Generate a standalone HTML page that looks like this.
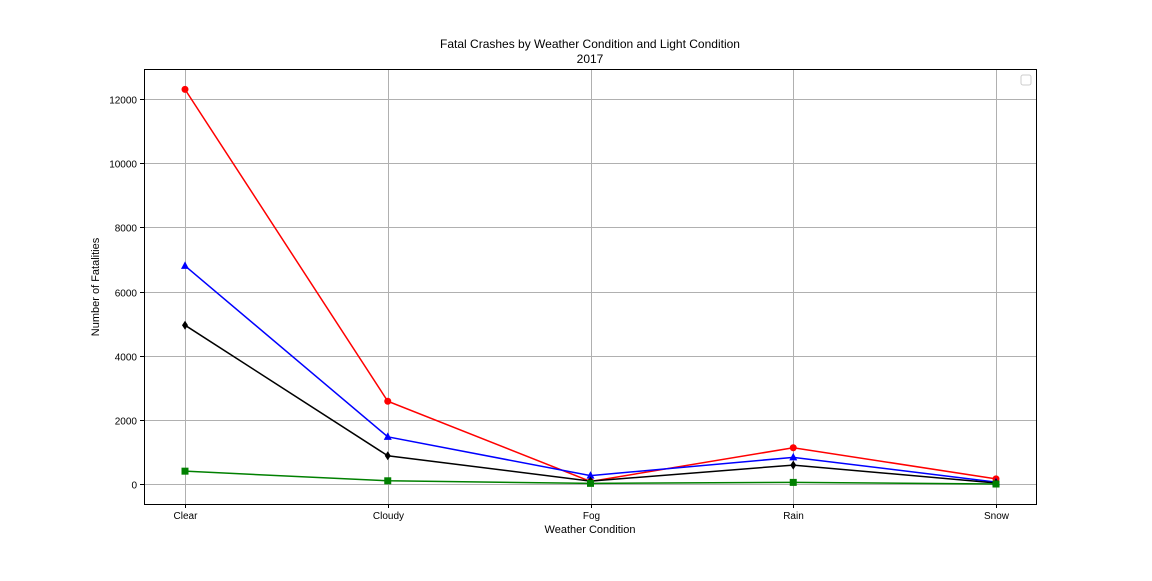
<!DOCTYPE html>
<html><head><meta charset="utf-8"><style>
body{margin:0;background:#fff;font-family:"Liberation Sans",sans-serif}
svg text{font-family:"Liberation Sans",sans-serif;font-size:11px;fill:#000}
svg text.tick{font-size:10px}
</style></head><body>
<svg id="chart" width="1152" height="576" xmlns="http://www.w3.org/2000/svg">
<rect width="1152" height="576" fill="#fff"/>
<text x="590" y="48" text-anchor="middle" style="font-size:12px">Fatal Crashes by Weather Condition and Light Condition</text>
<text x="590" y="63" text-anchor="middle" style="font-size:12px">2017</text>
<g id="grid"></g><g id="axes"></g><g id="series"></g>
<rect x="144.5" y="69.5" width="892" height="435" fill="none" stroke="#000" stroke-width="1"/>
<rect x="1021" y="75" width="10" height="10" rx="2" fill="#fff" stroke="#ccc"/>
<text x="590" y="533" text-anchor="middle">Weather Condition</text>
<text transform="translate(99,287) rotate(-90)" text-anchor="middle">Number of Fatalities</text>
</svg>
<script>
const categories=["Clear","Cloudy","Fog","Rain","Snow"];
const yTicks=[0,2000,4000,6000,8000,10000,12000];
const redValues=[12300,2580,80,1130,160];
const blueValues=[6800,1470,260,830,60];
const blackValues=[4950,880,90,590,30];
const greenValues=[400,100,20,50,0];
const NS="http://www.w3.org/2000/svg";
const x0=185,x1=996;
function xs(i){return x0+i*(x1-x0)/(categories.length-1);}
function ys(v){return 484-v*(484-99)/12000;}
function mk(tag,attrs,parent){const e=document.createElementNS(NS,tag);for(const k in attrs)e.setAttribute(k,attrs[k]);parent.appendChild(e);return e;}
const grid=document.getElementById('grid'),axes=document.getElementById('axes'),ser=document.getElementById('series');
categories.forEach((c,i)=>{const x=Math.round(xs(i))+0.5;
const g=mk('line',{x1:x,x2:x,y1:69,y2:504,stroke:'#b0b0b0','stroke-width':1},grid);


const t=mk('line',{x1:x,x2:x,y1:504,y2:508,stroke:'#000'},axes);


const l=mk('text',{x:x,y:519,'text-anchor':'middle','class':'tick'},axes);l.textContent=c;

});
yTicks.forEach(v=>{const y=Math.round(ys(v))+0.5;
const g=mk('line',{x1:144,x2:1036,y1:y,y2:y,stroke:'#b0b0b0','stroke-width':1},grid);


const t=mk('line',{x1:140,x2:144,y1:y,y2:y,stroke:'#000'},axes);


const l=mk('text',{x:137,y:y+4,'text-anchor':'end','class':'tick'},axes);l.textContent=v;

});
function series(vals,color,marker,name){
const pts=vals.map((v,i)=>xs(i)+','+ys(v)).join(' ');
const p=mk('polyline',{points:pts,fill:'none',stroke:color,'stroke-width':1.5},ser);


vals.forEach((v,i)=>{const x=xs(i),y=ys(v);let m;
if(marker==='o')m=mk('circle',{cx:x,cy:y,r:3.5,fill:color},ser);
else if(marker==='^')m=mk('polygon',{points:`${x},${y-4.5} ${x-4},${y+3} ${x+4},${y+3}`,fill:color},ser);
else if(marker==='d')m=mk('polygon',{points:`${x},${y-4.5} ${x+3},${y} ${x},${y+4.5} ${x-3},${y}`,fill:color},ser);
else m=mk('rect',{x:x-3.5,y:y-3.5,width:7,height:7,fill:color},ser);

});}
series(redValues,'#ff0000','o','red-series');
series(blueValues,'#0000ff','^','blue-series');
series(blackValues,'#000000','d','black-series');
series(greenValues,'#008000','s','green-series');
</script>
</body></html>
